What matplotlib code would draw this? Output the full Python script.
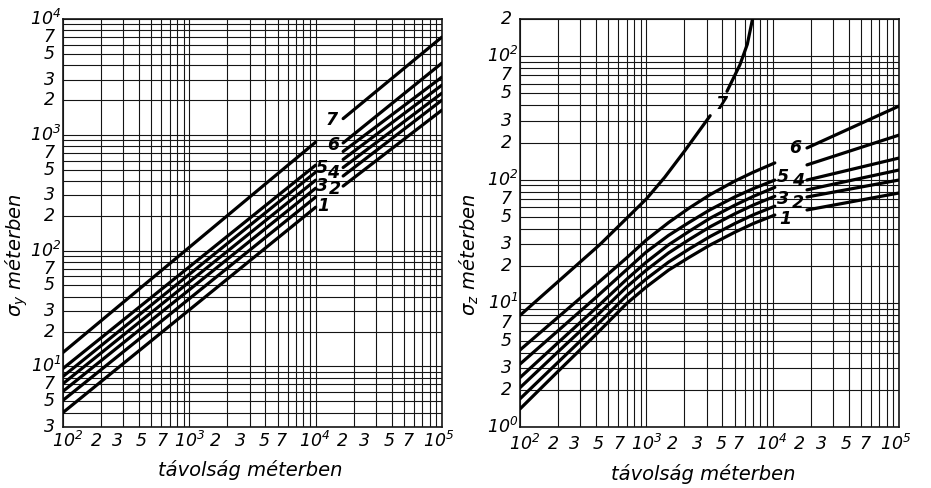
import matplotlib
matplotlib.use("Agg")
import matplotlib.pyplot as plt
from matplotlib.patches import Rectangle
from matplotlib.transforms import blended_transform_factory

plt.rcParams['font.family'] = ['DejaVu Sans']
plt.rcParams['mathtext.fontset'] = 'custom'
plt.rcParams['mathtext.rm'] = 'DejaVu Sans:italic'
plt.rcParams['mathtext.it'] = 'DejaVu Sans:italic'

#===Data: sigma_y (left panel)===#
classes = ['1', '2', '3', '4', '5', '6', '7']
sy_x_left = [1e2, 1e4]
sy_left = [[4.0, 237], [5.1, 290], [6.1, 346], [7.1, 406],
           [8.2, 476], [9.6, 547], [13.2, 865]]
sy_x_right = [1.65e4, 1e5]
sy_right = [[361, 1636], [441, 1995], [522, 2293], [613, 2690],
            [718, 3155], [851, 4169], [1380, 6990]]

#===Data: sigma_z (right panel)===#
sz_x_left = [100, 200, 400, 700, 1000, 1500, 2200, 3200, 5000, 7000, 10400]
sz_left = [[1.40, 2.82, 5.62, 10.0, 13.6, 18.6, 23.7, 29.7, 37.6, 44.2, 51.9],
           [1.69, 3.34, 6.58, 11.6, 15.8, 21.6, 27.7, 34.8, 44.2, 52.0, 61.2],
           [2.08, 4.06, 7.85, 13.6, 18.6, 25.6, 33.0, 41.7, 53.0, 62.4, 73.6],
           [2.51, 4.81, 9.18, 15.7, 21.6, 29.8, 38.5, 48.9, 62.2, 73.3, 86.9],
           [3.23, 6.01, 11.2, 18.8, 26.1, 35.5, 45.5, 57.3, 72.6, 84.7, 99.5],
           [4.20, 7.73, 14.2, 23.4, 32.6, 45.1, 59.4, 75.9, 97.5, 115, 137]]
sz_x_right = [1.87e4, 1e5]
sz_right = [[57.0, 78.2], [72.6, 99.6], [82.9, 120],
            [99.6, 150], [132, 230], [181, 395]]
# class 7 rises steeply and leaves the chart at the top
sz7_x_a = [100, 430, 1000, 1400, 2000, 3200]
sz7_a = [8.0, 30, 70, 105, 170, 330]
sz7_x_b = [4350, 5500, 6300, 6900, 7200]
sz7_b = [520, 850, 1250, 1960, 2600]

#===Tick labels===#
x_labels = ['$10^2$', '2', '3', '5', '7', '$10^3$', '2', '3', '5', '7',
            '$10^4$', '2', '3', '5', '7', '$10^5$']
x_label_pos = [0.013, 0.088, 0.145, 0.205, 0.262, 0.335, 0.402, 0.468,
               0.530, 0.576, 0.665, 0.737, 0.795, 0.86, 0.91, 0.99]
sy_ticks = [3, 5, 7, 10, 20, 30, 50, 70, 100, 200, 300, 500, 700,
            1000, 2000, 3000, 5000, 7000, 10000]
sy_ticklabels = ['3', '5', '7', '$10^1$', '2', '3', '5', '7', '$10^2$',
                 '2', '3', '5', '7', '$10^3$', '2', '3', '5', '7', '$10^4$']
sz_ticks = [1, 2, 3, 5, 7, 10, 20, 30, 50, 70, 100, 200, 300, 500, 700,
            1000, 2000]
sz_ticklabels = ['$10^0$', '2', '3', '5', '7', '$10^1$', '2', '3', '5', '7',
                 '$10^2$', '2', '3', '5', '7', '$10^2$', '2']

FS = 12.5
LW = 2.3

fig = plt.figure(figsize=(9.31, 4.88), dpi=100)
fig.patch.set_facecolor('white')
ax1 = fig.add_axes([63/931, 61/488, 379/931, 408/488])
ax2 = fig.add_axes([520/931, 61/488, 379/931, 408/488])


def setup(ax, ylim, yticks, ylabels, xlab_y):
    ax.set_xscale('log')
    ax.set_yscale('log')
    ax.set_xlim(1e2, 1e5)
    ax.set_ylim(*ylim)
    ax.grid(True, which='both', color='#151515', lw=0.8, zorder=0)
    ax.tick_params(which='both', length=0, labelbottom=False, labelleft=False)
    for s in ax.spines.values():
        s.set_linewidth(1.2)
        s.set_color('#151515')
    tr = blended_transform_factory(ax.transAxes, ax.transData)
    for v, lab in zip(yticks, ylabels):
        major = lab.startswith('$')
        ax.text(-0.004 if major else -0.022, v, lab, transform=tr,
                ha='right', va='center', fontsize=FS, style='italic')
    for p, lab in zip(x_label_pos, x_labels):
        ax.text(p, xlab_y, lab, transform=ax.transAxes, ha='center',
                va='center', fontsize=FS, style='italic')


def curve_label(ax, x, y, s):
    ax.text(x, y, s, transform=ax.transAxes, ha='center', va='center',
            fontsize=FS, fontweight='bold', style='italic', zorder=4)


#===Left panel===#
setup(ax1, (3, 1e4), sy_ticks, sy_ticklabels, -0.035)
ax1.add_patch(Rectangle((0.667, 0.52), 0.077, 0.262, transform=ax1.transAxes,
                        facecolor='white', edgecolor='none', zorder=1))
for i in range(7):
    ax1.plot(sy_x_left, sy_left[i], color='black', lw=LW, zorder=3,
             solid_capstyle='round')
    ax1.plot(sy_x_right, sy_right[i], color='black', lw=LW, zorder=3,
             solid_capstyle='round')
left_lab_pos = [(0.686, 0.542), (0.718, 0.583), (0.683, 0.591),
                (0.712, 0.623), (0.683, 0.635), (0.712, 0.691), (0.710, 0.752)]
for (px, py), c in zip(left_lab_pos, classes):
    curve_label(ax1, px, py, c)

#===Right panel===#
setup(ax2, (1, 2000), sz_ticks, sz_ticklabels, -0.042)
ax2.add_patch(Rectangle((0.517, 0.735), 0.077, 0.079, transform=ax2.transAxes,
                        facecolor='white', edgecolor='none', zorder=1))
ax2.add_patch(Rectangle((0.683, 0.483), 0.077, 0.22, transform=ax2.transAxes,
                        facecolor='white', edgecolor='none', zorder=1))
for i in range(6):
    ax2.plot(sz_x_left, sz_left[i], color='black', lw=LW, zorder=3,
             solid_capstyle='round')
    ax2.plot(sz_x_right, sz_right[i], color='black', lw=LW, zorder=3,
             solid_capstyle='round')
ax2.plot(sz7_x_a, sz7_a, color='black', lw=LW, zorder=3, solid_capstyle='round')
ax2.plot(sz7_x_b, sz7_b, color='black', lw=LW, zorder=3, solid_capstyle='round')
right_lab_pos = [(0.699, 0.510), (0.734, 0.549), (0.694, 0.559),
                 (0.734, 0.603), (0.694, 0.613), (0.726, 0.684), (0.533, 0.792)]
for (px, py), c in zip(right_lab_pos, classes):
    curve_label(ax2, px, py, c)

#===Axis titles===#
fig.text(250/931, 1 - 470/488, 'távolság méterben', ha='center', va='center',
         fontsize=14, style='italic')
fig.text(703/931, 1 - 474/488, 'távolság méterben', ha='center', va='center',
         fontsize=14, style='italic')
fig.text(17/931, 1 - 255/488, 'σ$_y$ méterben', rotation=90, ha='center',
         va='center', fontsize=14, style='italic')
fig.text(469/931, 1 - 255/488, 'σ$_z$ méterben', rotation=90, ha='center',
         va='center', fontsize=14, style='italic')

fig.savefig('out.png', dpi=100, facecolor='white')
